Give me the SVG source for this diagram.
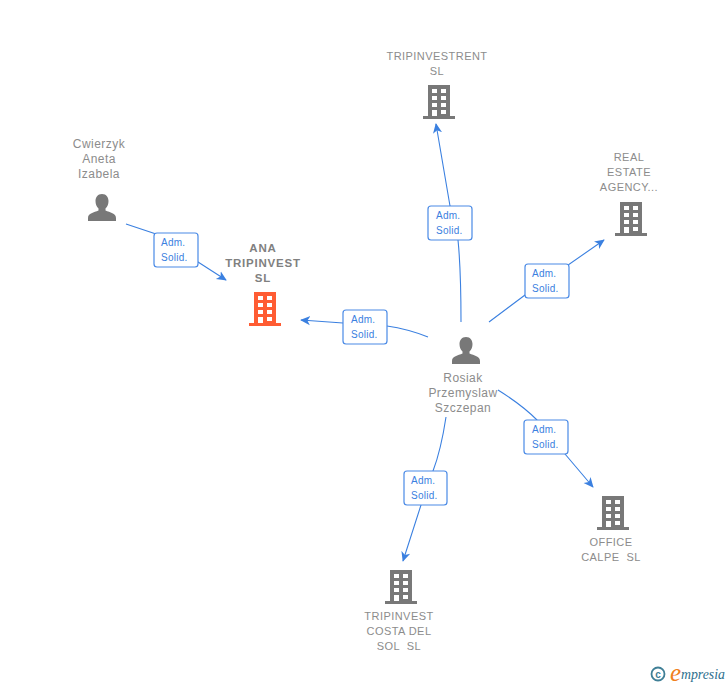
<svg xmlns="http://www.w3.org/2000/svg" width="728" height="685" viewBox="0 0 728 685">
<style>
text{font-family:"Liberation Sans",Arial,sans-serif}
.l{font-size:11px;fill:#8c8c8c;text-anchor:middle;letter-spacing:.45px}
.m{font-size:12px;letter-spacing:.45px}
.b{font-weight:bold;fill:#808080;font-size:11.500px;letter-spacing:.8px}
.c{fill:none;stroke:#3b80e0;stroke-width:1.1}
.box{fill:#fff;stroke:#4a8ae6;stroke-width:1.2}
.t{font-size:10px;fill:#3b80e0;letter-spacing:.25px}
.g{fill:#787878}
</style>
<defs>
<marker id="a" viewBox="0 0 12 12" refX="10" refY="6" markerWidth="11" markerHeight="11" markerUnits="userSpaceOnUse" orient="auto"><path d="M0 1L11 6L0 11L3 6Z" fill="#3b80e0"/></marker>
<path id="bd" fill-rule="evenodd" d="M5 0H27V31H32V34H0V31H5ZM9 4V8H14V4ZM18 4V8H23V4ZM9 11V15H14V11ZM18 11V15H23V11ZM9 18V22H14V18ZM18 18V22H23V18ZM9 25V31H14V25ZM18 25V29H23V25Z"/>
<path id="pr" d="M14 0C18.500 0 20.500 3.500 20.500 7C20.500 10 19.500 12.500 17.500 14.500V16.500C22 18.500 28 19 28 24V27H0V24C0 19 6 18.500 10.500 16.500V14.500C8.500 12.500 7.500 10 7.500 7C7.500 3.500 9.500 0 14 0Z"/>
</defs>
<g id="connectors">
<path class="c" marker-end="url(#a)" d="M126 224L156 234L198 262L226 280"/>
<path class="c" marker-end="url(#a)" d="M428 337Q408 329 387 326L343 323L301 320"/>
<path class="c" marker-end="url(#a)" d="M461 322Q461 270 458 240L450 206L436 124"/>
<path class="c" marker-end="url(#a)" d="M489 322L525 295L604 240"/>
<path class="c" marker-end="url(#a)" d="M498 390Q522 405 537 420L565 454L593 487"/>
<path class="c" marker-end="url(#a)" d="M446 417Q441 450 433 471L421 505L403 561"/>
<g id="edge-labels">
<rect class="box" x="154" y="233" width="44" height="34" rx="3"/><text class="t" x="161" y="246">Adm.</text><text class="t" x="161" y="261">Solid.</text>
<rect class="box" x="343" y="310" width="44" height="34" rx="3"/><text class="t" x="351" y="323">Adm.</text><text class="t" x="351" y="338">Solid.</text>
<rect class="box" x="428" y="206" width="44" height="34" rx="3"/><text class="t" x="436" y="219">Adm.</text><text class="t" x="436" y="234">Solid.</text>
<rect class="box" x="525" y="264" width="44" height="34" rx="3"/><text class="t" x="532" y="277">Adm.</text><text class="t" x="532" y="292">Solid.</text>
<rect class="box" x="524" y="420" width="44" height="34" rx="3"/><text class="t" x="532" y="433">Adm.</text><text class="t" x="532" y="448">Solid.</text>
<rect class="box" x="404" y="471" width="43" height="34" rx="3"/><text class="t" x="411" y="484">Adm.</text><text class="t" x="411" y="499">Solid.</text>
</g>
</g>
<g id="n-cwierzyk"><use href="#pr" x="88" y="194" class="g"/><text class="l m" x="99" y="148">Cwierzyk</text><text class="l m" x="99" y="163">Aneta</text><text class="l m" x="99" y="178">Izabela</text></g>
<g id="n-ana"><use href="#bd" x="249" y="292" fill="#ff5c33"/><text class="l b" x="263" y="252">ANA</text><text class="l b" x="263" y="267">TRIPINVEST</text><text class="l b" x="263" y="282">SL</text></g>
<g id="n-tripinvestrent"><use href="#bd" x="423" y="85" class="g"/><text class="l" x="437" y="60">TRIPINVESTRENT</text><text class="l" x="437" y="75">SL</text></g>
<g id="n-real"><use href="#bd" x="615" y="202" class="g"/><text class="l" x="629" y="161">REAL</text><text class="l" x="629" y="176">ESTATE</text><text class="l" x="629" y="191">AGENCY...</text></g>
<g id="n-rosiak"><use href="#pr" x="452" y="337" class="g"/><text class="l m" x="463" y="382">Rosiak</text><text class="l m" x="463" y="397">Przemyslaw</text><text class="l m" x="463" y="412">Szczepan</text></g>
<g id="n-office"><use href="#bd" x="597" y="496" class="g"/><text class="l" x="611" y="546">OFFICE</text><text class="l" x="611" y="561" xml:space="preserve">CALPE  SL</text></g>
<g id="n-costa"><use href="#bd" x="385" y="570" class="g"/><text class="l" x="399" y="620">TRIPINVEST</text><text class="l" x="399" y="635">COSTA DEL</text><text class="l" x="399" y="650" xml:space="preserve">SOL  SL</text></g>
<g id="logo"><circle cx="658" cy="674" r="6.500" fill="none" stroke="#3f7f96" stroke-width="1.8"/><text x="658" y="678" font-size="10" font-weight="bold" fill="#3f7f96" text-anchor="middle">c</text><text x="670" y="681" font-size="25" font-style="italic" fill="#f08020" style="font-family:'Liberation Serif',serif">e</text><text x="681" y="679" font-size="13.800" font-style="italic" fill="#2d6f8e" style="font-family:'Liberation Serif',serif">mpresia</text></g>
</svg>
